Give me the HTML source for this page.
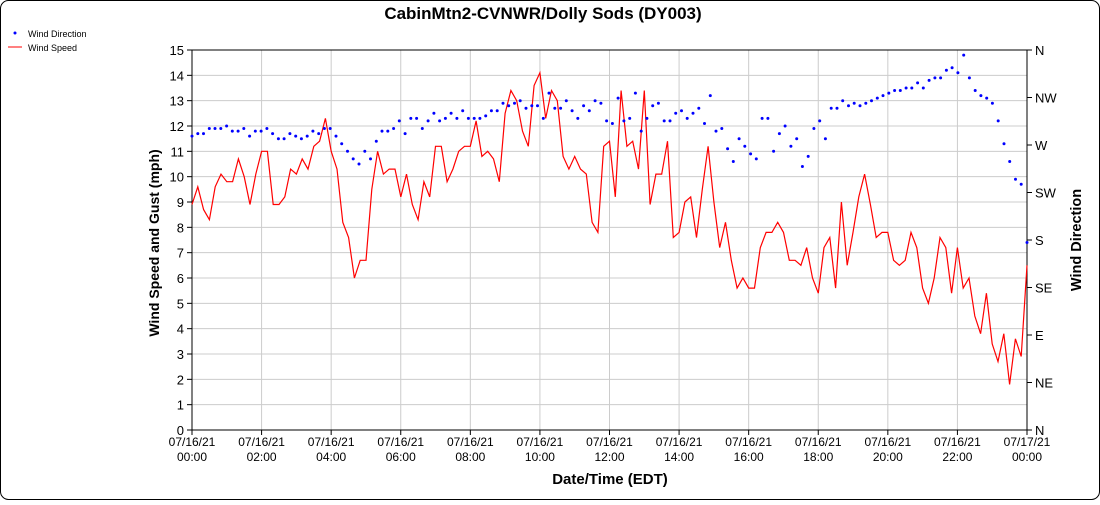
<!DOCTYPE html>
<html><head><meta charset="utf-8"><style>
body{margin:0;background:#fff;font-family:"Liberation Sans",Arial,sans-serif}
</style></head><body>
<svg id="s" width="1100" height="500" xmlns="http://www.w3.org/2000/svg" font-family="Liberation Sans, Arial, sans-serif">
<rect x="0.5" y="0.5" width="1099" height="499" rx="8" fill="#fff" stroke="#000"/>
<text x="543" y="19" text-anchor="middle" font-size="17" font-weight="bold">CabinMtn2-CVNWR/Dolly Sods (DY003)</text>
<circle cx="15" cy="33" r="1.5" fill="#00f"/>
<text x="28" y="37" font-size="9">Wind Direction</text>
<line x1="8" y1="47" x2="22" y2="47" stroke="red"/>
<text x="28" y="51" font-size="9">Wind Speed</text>
<g id="g"></g>
<text transform="translate(159,243) rotate(-90)" text-anchor="middle" font-size="14" font-weight="bold">Wind Speed and Gust (mph)</text>
<text transform="translate(1081,240) rotate(-90)" text-anchor="middle" font-size="14.5" font-weight="bold">Wind Direction</text>
<text x="610" y="484" text-anchor="middle" font-size="15" font-weight="bold">Date/Time (EDT)</text>
</svg>
<script>
const g=document.getElementById('g');let h='';
const X0=192,X1=1027,Y0=430,Y1=50;
const yv=v=>Y0-(v/15)*(Y0-Y1);
for(let i=0;i<=15;i++){const y=yv(i);h+=`<line x1="${X0}" y1="${y}" x2="${X1}" y2="${y}" stroke="#ccc"/><line x1="${X0-5}" y1="${y}" x2="${X0}" y2="${y}" stroke="#000"/><text x="${X0-8}" y="${y+5}" text-anchor="end" font-size="13">${i}</text>`;}
for(let i=0;i<=12;i++){const x=X0+i*(X1-X0)/12;h+=`<line x1="${x}" y1="${Y1}" x2="${x}" y2="${Y0}" stroke="#ccc"/><line x1="${x}" y1="${Y0}" x2="${x}" y2="${Y0+5}" stroke="#000"/><text x="${x}" y="${Y0+16}" text-anchor="middle" font-size="12">${i==12?'07/17/21':'07/16/21'}</text><text x="${x}" y="${Y0+31}" text-anchor="middle" font-size="12">${String((i*2)%24).padStart(2,'0')}:00</text>`;}
const dirs=['N','NE','E','SE','S','SW','W','NW','N'];
for(let i=0;i<=8;i++){const y=Y0-i*(Y0-Y1)/8;h+=`<line x1="${X1}" y1="${y}" x2="${X1+5}" y2="${y}" stroke="#000"/><text x="${X1+8}" y="${y+5}" font-size="13">${dirs[i]}</text>`;}
h+=`<rect x="${X0}" y="${Y1}" width="${X1-X0}" height="${Y0-Y1}" fill="none" stroke="#000"/>`;
const sp=[8.9,9.6,8.7,8.3,9.6,10.1,9.8,9.8,10.7,10.0,8.9,10.1,11.0,11.0,8.9,8.9,9.2,10.3,10.1,10.7,10.3,11.2,11.4,12.3,11.0,10.3,8.2,7.6,6.0,6.7,6.7,9.5,11.0,10.1,10.3,10.3,9.2,10.1,8.9,8.3,9.8,9.2,11.2,11.2,9.8,10.3,11.0,11.2,11.2,12.2,10.8,11.0,10.7,9.8,12.5,13.4,13.0,11.8,11.2,13.6,14.1,12.3,13.4,13.0,10.8,10.3,10.8,10.3,10.1,8.2,7.8,11.2,11.4,9.2,13.4,11.2,11.4,10.3,13.4,8.9,10.1,10.1,11.4,7.6,7.8,9.0,9.2,7.6,9.5,11.2,9.0,7.2,8.2,6.7,5.6,6.0,5.6,5.6,7.2,7.8,7.8,8.2,7.8,6.7,6.7,6.5,7.2,6.0,5.4,7.2,7.6,5.6,9.0,6.5,7.8,9.2,10.1,8.9,7.6,7.8,7.8,6.7,6.5,6.7,7.8,7.2,5.6,5.0,6.0,7.6,7.2,5.4,7.2,5.6,6.0,4.5,3.8,5.4,3.4,2.7,3.8,1.8,3.6,2.9,6.5];
const dr=[11.6,11.7,11.7,11.9,11.9,11.9,12.0,11.8,11.8,11.9,11.6,11.8,11.8,11.9,11.7,11.5,11.5,11.7,11.6,11.5,11.6,11.8,11.7,11.9,11.9,11.6,11.3,11.0,10.7,10.5,11.0,10.7,11.4,11.8,11.8,11.9,12.2,11.7,12.3,12.3,11.9,12.2,12.5,12.2,12.3,12.5,12.3,12.6,12.3,12.3,12.3,12.4,12.6,12.6,12.9,12.8,12.9,13.0,12.7,12.8,12.8,12.3,13.3,12.7,12.7,13.0,12.6,12.3,12.8,12.6,13.0,12.9,12.2,12.1,13.1,12.2,12.3,13.3,11.8,12.3,12.8,12.9,12.2,12.2,12.5,12.6,12.3,12.5,12.7,12.1,13.2,11.8,11.9,11.1,10.6,11.5,11.2,10.9,10.7,12.3,12.3,11.0,11.7,12.0,11.2,11.5,10.4,10.8,11.9,12.2,11.5,12.7,12.7,13.0,12.8,12.9,12.8,12.9,13.0,13.1,13.2,13.3,13.4,13.4,13.5,13.5,13.7,13.5,13.8,13.9,13.9,14.2,14.3,14.1,14.8,13.9,13.4,13.2,13.1,12.9,12.2,11.3,10.6,9.9,9.7,7.4];
const px=(i,n)=>X0+i*(X1-X0)/(n-1);
h+=`<polyline fill="none" stroke="red" stroke-width="1.2" points="${sp.map((v,i)=>px(i,sp.length).toFixed(1)+','+yv(v).toFixed(1)).join(' ')}"/>`;
dr.forEach((v,i)=>{h+=`<circle cx="${px(i,dr.length).toFixed(1)}" cy="${yv(v).toFixed(1)}" r="1.5" fill="#00f"/>`;});
g.innerHTML=h;
</script>
</body></html>
